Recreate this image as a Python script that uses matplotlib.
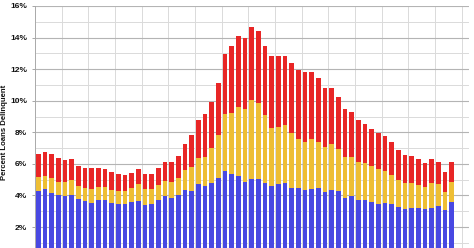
import numpy as np
import matplotlib
matplotlib.use('Agg')
import matplotlib.pyplot as plt
from matplotlib.ticker import MultipleLocator, FuncFormatter

# quarterly data, 2002Q1 .. 2017Q3
quarters = [f'{y}Q{q}' for y in range(2002, 2018) for q in range(1, 5)][:63]

# stacked components (percent of loans)
delinq_30_89 = [4.30, 4.39, 4.16, 4.03, 3.99, 4.03, 3.76, 3.67, 3.54, 3.69,
                3.69, 3.52, 3.44, 3.48, 3.61, 3.67, 3.38, 3.46, 3.71, 3.97,
                3.86, 4.03, 4.35, 4.30, 4.73, 4.60, 4.77, 5.09, 5.57, 5.36,
                5.23, 4.85, 5.02, 5.02, 4.81, 4.60, 4.73, 4.81, 4.45, 4.45,
                4.35, 4.39, 4.45, 4.20, 4.37, 4.30, 3.86, 3.97, 3.71, 3.71,
                3.61, 3.44, 3.54, 3.46, 3.29, 3.12, 3.23, 3.19, 3.12, 3.23,
                3.33, 3.06, 3.59]
delinq_90 = [0.85, 0.84, 0.95, 0.84, 0.86, 0.93, 0.86, 0.80, 0.89, 0.85,
             0.83, 0.83, 0.86, 0.82, 0.84, 1.06, 1.03, 0.93, 0.97, 0.95,
             0.99, 1.10, 1.24, 1.52, 1.62, 1.82, 2.22, 2.74, 3.57, 3.84,
             4.39, 4.63, 5.03, 4.82, 4.29, 3.65, 3.63, 3.63, 3.53, 3.13,
             3.06, 3.19, 2.92, 2.89, 2.89, 2.66, 2.56, 2.45, 2.41, 2.33,
             2.26, 2.26, 1.99, 1.84, 1.69, 1.65, 1.54, 1.45, 1.40, 1.56,
             1.40, 1.14, 1.28]
foreclosure = [1.48, 1.50, 1.49, 1.48, 1.40, 1.35, 1.25, 1.29, 1.29, 1.18,
               1.18, 1.14, 1.06, 1.02, 0.95, 0.95, 0.95, 0.97, 1.04, 1.22,
               1.29, 1.39, 1.67, 2.01, 2.43, 2.72, 2.95, 3.31, 3.82, 4.29,
               4.48, 4.51, 4.60, 4.58, 4.39, 4.58, 4.47, 4.39, 4.43, 4.37,
               4.39, 4.26, 4.05, 3.74, 3.53, 3.30, 3.06, 2.85, 2.66, 2.49,
               2.36, 2.24, 2.24, 2.09, 1.88, 1.77, 1.73, 1.65, 1.56, 1.52,
               1.37, 1.31, 1.23]

x = np.arange(len(quarters))
b1 = np.array(delinq_30_89)
b2 = np.array(delinq_90)
b3 = np.array(foreclosure)

fig = plt.figure(figsize=(4.74, 2.48), dpi=100)
ax = fig.add_axes([35 / 474, 0.0, (468.5 - 35) / 474, 242 / 248])

w = 0.7
ax.bar(x, b1, width=w, color='#4848E2', zorder=3)
ax.bar(x, b2, width=w, bottom=b1, color='#EEBE34', zorder=3)
ax.bar(x, b3, width=w, bottom=b1 + b2, color='#E82626', zorder=3)

ax.set_xlim(-0.5, 64.5)
ax.set_ylim(0.674, 16)

ax.yaxis.set_major_locator(MultipleLocator(2))
ax.yaxis.set_minor_locator(MultipleLocator(1))
ax.yaxis.set_major_formatter(FuncFormatter(lambda v, p: f'{v:.0f}%'))
ax.set_xticks(np.arange(-0.5, 64, 4))
ax.set_xticklabels([])
ax.tick_params(axis='x', length=0)
ax.tick_params(axis='y', which='major', length=2.5, width=0.6, color='#999999',
               labelsize=6.0, labelcolor='#111111', pad=3)
ax.tick_params(axis='y', which='minor', length=0)
for t in ax.get_yticklabels():
    t.set_fontweight('bold')
    t.set_family('Liberation Sans')

ax.grid(axis='y', which='major', color='#B4B4B4', linewidth=0.8, zorder=0)
ax.grid(axis='y', which='minor', color='#DADADA', linewidth=0.7, zorder=0)
ax.grid(axis='x', which='major', color='#DADADA', linewidth=0.7, zorder=0)

for s in ['top', 'right', 'bottom']:
    ax.spines[s].set_visible(False)
ax.spines['left'].set_color('#AAAAAA')
ax.spines['left'].set_linewidth(0.7)

ax.set_ylabel('Percent Loans Delinquent', fontsize=5.6, fontweight='bold',
              family='Liberation Sans', color='#111111')
ax.yaxis.set_label_coords(-0.062, 0.479)

fig.savefig('out.png', dpi=100)
